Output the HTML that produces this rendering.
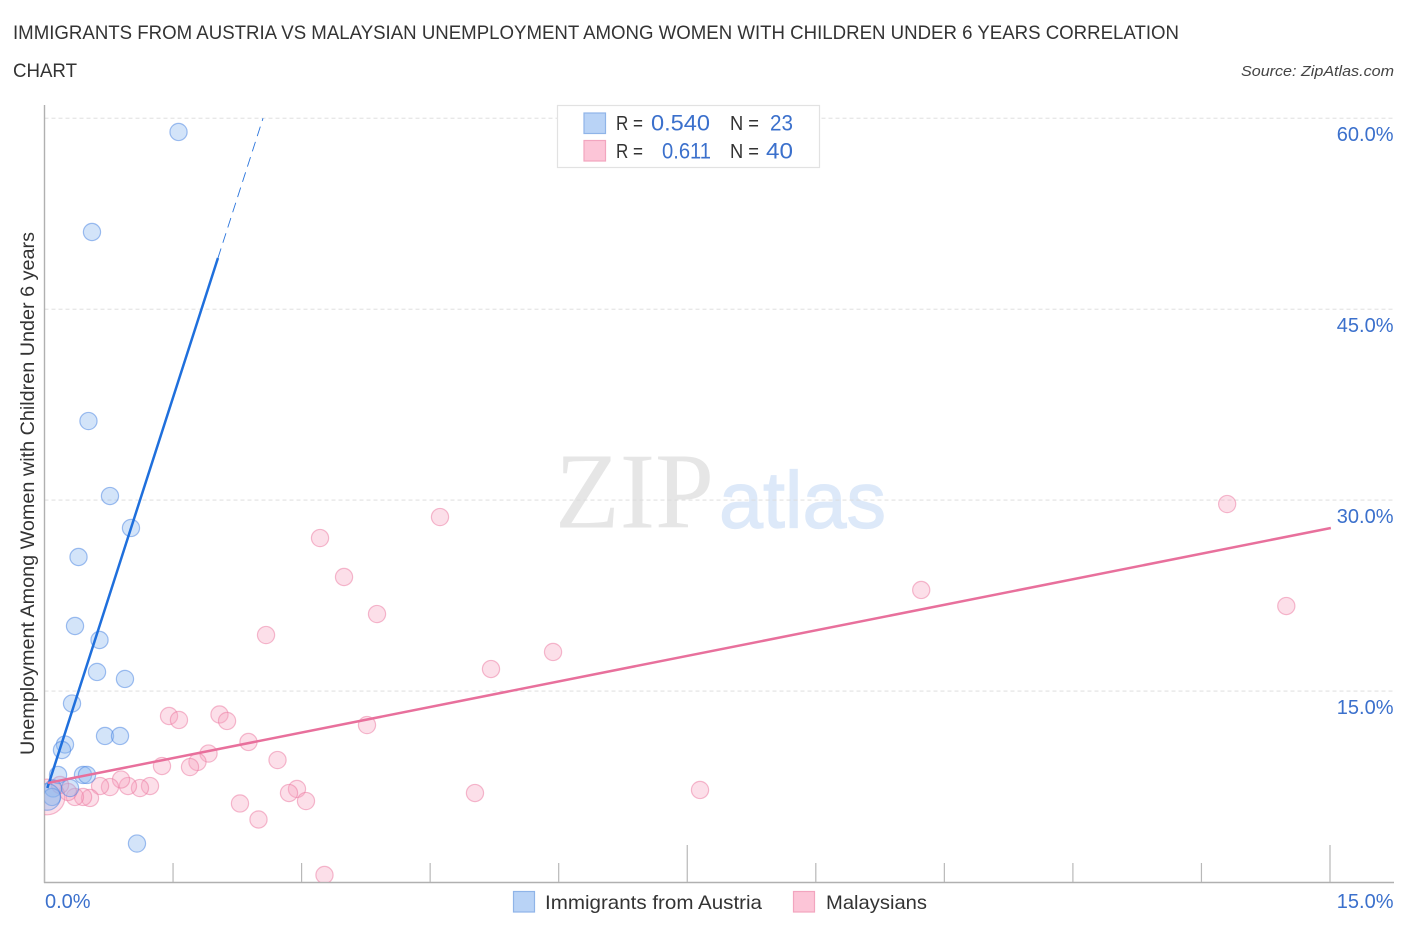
<!DOCTYPE html>
<html lang="en">
<head>
<meta charset="utf-8">
<title>Immigrants from Austria vs Malaysian Unemployment Correlation Chart</title>
<style>
html,body{margin:0;padding:0;background:#fff;width:1406px;height:930px;overflow:hidden}
svg{display:block;font-family:"Liberation Sans",sans-serif}
</style>
</head>
<body>
<svg id="chart" width="1406" height="930" viewBox="0 0 1406 930" xmlns="http://www.w3.org/2000/svg">
  <defs>
    <clipPath id="plot-clip"><rect x="44.5" y="100" width="1350" height="782"/></clipPath>
  </defs>
  <text x="13" y="39" font-size="19" fill="#333" textLength="1166" lengthAdjust="spacingAndGlyphs">IMMIGRANTS FROM AUSTRIA VS MALAYSIAN UNEMPLOYMENT AMONG WOMEN WITH CHILDREN UNDER 6 YEARS CORRELATION</text>
  <text x="13" y="77" font-size="19" fill="#333" textLength="64" lengthAdjust="spacingAndGlyphs">CHART</text>
  <text x="1241" y="76" font-size="15" font-style="italic" fill="#444" textLength="153" lengthAdjust="spacingAndGlyphs">Source: ZipAtlas.com</text>

  <g>
    <text x="555" y="527.5" style="font-family:'Liberation Serif',serif" font-size="108" fill="#e6e6e6" textLength="159" lengthAdjust="spacingAndGlyphs">ZIP</text>
    <text x="719" y="527.5" style="font-family:'Liberation Sans',sans-serif" font-size="80" fill="#dde9f9" stroke="#dde9f9" stroke-width="1.2" textLength="167" lengthAdjust="spacingAndGlyphs">atlas</text>
  </g>

  <g id="grid"></g>
  <g id="axes"></g>
  <g id="points" clip-path="url(#plot-clip)"></g>
  <g id="lines"></g>
  <g id="labels"></g>

  <text transform="translate(34,755) rotate(-90)" font-size="19.5" fill="#333" textLength="523" lengthAdjust="spacingAndGlyphs">Unemployment Among Women with Children Under 6 years</text>

  <g>
    <rect x="557.5" y="105.5" width="262" height="62" fill="#fff" stroke="#e2e2e2" stroke-width="1.2"/>
    <rect x="584" y="113" width="21.5" height="20.5" fill="#b9d3f6" stroke="#8fb4e8" stroke-width="1.2"/>
    <rect x="584" y="140.5" width="21.5" height="20.5" fill="#fcc5d7" stroke="#f2a5bf" stroke-width="1.2"/>
    <text x="616" y="130" font-size="20" fill="#333" textLength="27" lengthAdjust="spacingAndGlyphs">R =</text>
    <text x="651" y="130.5" font-size="22" fill="#3b70cc" textLength="59" lengthAdjust="spacingAndGlyphs">0.540</text>
    <text x="730" y="130" font-size="20" fill="#333" textLength="29" lengthAdjust="spacingAndGlyphs">N =</text>
    <text x="770" y="130.5" font-size="22" fill="#3b70cc" textLength="23" lengthAdjust="spacingAndGlyphs">23</text>
    <text x="616" y="158" font-size="20" fill="#333" textLength="27" lengthAdjust="spacingAndGlyphs">R =</text>
    <text x="662" y="158.5" font-size="22" fill="#3b70cc" textLength="49" lengthAdjust="spacingAndGlyphs">0.611</text>
    <text x="730" y="158" font-size="20" fill="#333" textLength="29" lengthAdjust="spacingAndGlyphs">N =</text>
    <text x="766" y="158.5" font-size="22" fill="#3b70cc" textLength="27" lengthAdjust="spacingAndGlyphs">40</text>
  </g>

  <g>
    <rect x="513.5" y="891.5" width="21" height="20.5" fill="#b9d3f6" stroke="#8fb4e8" stroke-width="1.2"/>
    <text x="545" y="909" font-size="19.5" fill="#333" textLength="217" lengthAdjust="spacingAndGlyphs">Immigrants from Austria</text>
    <rect x="793.5" y="891.5" width="21" height="20.5" fill="#fcc5d7" stroke="#f2a5bf" stroke-width="1.2"/>
    <text x="826" y="909" font-size="19.5" fill="#333" textLength="101" lengthAdjust="spacingAndGlyphs">Malaysians</text>
  </g>
</svg>
<script>
const yGridValues = [15, 30, 45, 60];
const yTickLabels = ["15.0%", "30.0%", "45.0%", "60.0%"];
const xTickValues = [0, 1.5, 3, 4.5, 6, 7.5, 9, 10.5, 12, 13.5, 15];
const xMajorTicks = [7.5, 15];
const xEndValues = [0, 15];
const xEndLabels = ["0.0%", "15.0%"];

const austriaX = [1.564,0.554,0.513,0.764,1.009,0.397,0.356,0.642,0.613,0.939,0.321,0.706,0.881,0.239,0.204,0.449,0.496,0.158,1.079,0.298,0.100,0.088,0.03];
const austriaY = [58.92,51.06,36.21,30.32,27.81,25.53,20.11,19.01,16.50,15.95,14.02,11.47,11.47,10.80,10.37,8.41,8.41,8.41,3.02,7.38,7.35,6.68,6.68];
const austriaWeight = [1,1,1,1,1,1,1,1,1,1,1,1,1,1,1,1,1,1,1,1,1,1,2.4];

const malaysianX = [13.80,14.49,10.23,4.615,3.215,3.495,3.88,2.585,5.934,5.21,1.453,1.569,2.042,2.13,3.763,2.38,1.914,1.785,1.698,1.371,2.719,2.946,2.853,3.051,2.281,2.497,3.267,5.023,7.649,1.231,1.114,0.974,0.893,0.764,0.648,0.531,0.45,0.355,0.274,0.181,0.03];
const malaysianY = [29.69,21.68,22.94,28.67,27.02,23.96,21.05,19.40,18.07,16.73,13.04,12.73,13.16,12.65,12.33,11.0,10.09,9.43,9.03,9.11,9.58,7.31,6.99,6.36,6.17,4.91,0.55,6.99,7.23,7.54,7.38,7.54,8.05,7.46,7.54,6.60,6.68,6.68,7.07,7.62,6.68];
const malaysianWeight = [1,1,1,1,1,1,1,1,1,1,1,1,1,1,1,1,1,1,1,1,1,1,1,1,1,1,1,1,1,1,1,1,1,1,1,1,1,1,1,1,4.3];

const austriaTrendX = [0.033, 2.024];
const austriaTrendY = [7.38, 49.02];
const austriaTrendExtX = [2.024, 2.55];
const austriaTrendExtY = [49.02, 60];
const malaysianTrendX = [0.04, 15.01];
const malaysianTrendY = [7.78, 27.81];

const NS = "http://www.w3.org/2000/svg";
function xScale(v) { return 44.5 + v * 85.7; }
function yScale(v) { return 882 - v * 12.73; }
function rScale(w) { return 8.6 * Math.sqrt(w); }
function make(tag, parent, attrs) {
  const el = document.createElementNS(NS, tag);
  for (const k in attrs) el.setAttribute(k, attrs[k]);
  document.getElementById(parent).appendChild(el);
  return el;
}

yGridValues.forEach(function (v) {
  const el = make("line", "grid", {x1: 44.5, x2: 1393, y1: yScale(v), y2: yScale(v), stroke: "#dadada", "stroke-width": 0.9, "stroke-dasharray": "4 3"});
  
  
});

const yAxis = make("line", "axes", {x1: 44.5, x2: 44.5, y1: 105, y2: 883, stroke: "#b0b0b0", "stroke-width": 1.4});


const xAxis = make("line", "axes", {x1: 44, x2: 1394, y1: 882.5, y2: 882.5, stroke: "#b0b0b0", "stroke-width": 1.4});


xTickValues.forEach(function (v) {
  const top = xMajorTicks.indexOf(v) >= 0 ? 845 : 863;
  const el = make("line", "axes", {x1: xScale(v), x2: xScale(v), y1: top, y2: 882, stroke: "#b8b8b8", "stroke-width": 1.2});
  
  
});

function drawSeries(xs, ys, ws, fill, stroke, name) {
  xs.forEach(function (v, i) {
    const el = make("circle", "points", {cx: xScale(v), cy: yScale(ys[i]), r: rScale(ws[i]), fill: fill, stroke: stroke, "stroke-width": 1.2});
    
    
  });
}
drawSeries(malaysianX, malaysianY, malaysianWeight, "rgba(245,160,190,0.34)", "rgba(235,120,160,0.5)", "malaysians-point");
drawSeries(austriaX, austriaY, austriaWeight, "rgba(140,185,240,0.38)", "rgba(70,130,225,0.5)", "austria-point");

const blueExt = make("line", "lines", {x1: xScale(austriaTrendExtX[0]), y1: yScale(austriaTrendExtY[0]), x2: xScale(austriaTrendExtX[1]), y2: yScale(austriaTrendExtY[1]), stroke: "#2a74dc", "stroke-width": 0.9, "stroke-dasharray": "10 6"});


const blueLine = make("line", "lines", {x1: xScale(austriaTrendX[0]), y1: yScale(austriaTrendY[0]), x2: xScale(austriaTrendX[1]), y2: yScale(austriaTrendY[1]), stroke: "#1f6fdc", "stroke-width": 2.5});


const pinkLine = make("line", "lines", {x1: xScale(malaysianTrendX[0]), y1: yScale(malaysianTrendY[0]), x2: xScale(malaysianTrendX[1]), y2: yScale(malaysianTrendY[1]), stroke: "#e8709c", "stroke-width": 2.5});



yGridValues.forEach(function (v, i) {
  const el = make("text", "labels", {x: 1393.5, y: yScale(v) + 23, "text-anchor": "end", "font-size": 20, fill: "#3b70cc"});
  el.textContent = yTickLabels[i];
  
  
});
xEndValues.forEach(function (v, i) {
  const el = i === 0
    ? make("text", "labels", {x: 45, y: 908, "font-size": 20, fill: "#3b70cc"})
    : make("text", "labels", {x: 1393.5, y: 908, "text-anchor": "end", "font-size": 20, fill: "#3b70cc"});
  el.textContent = xEndLabels[i];
  
  
});
</script>
</body>
</html>
